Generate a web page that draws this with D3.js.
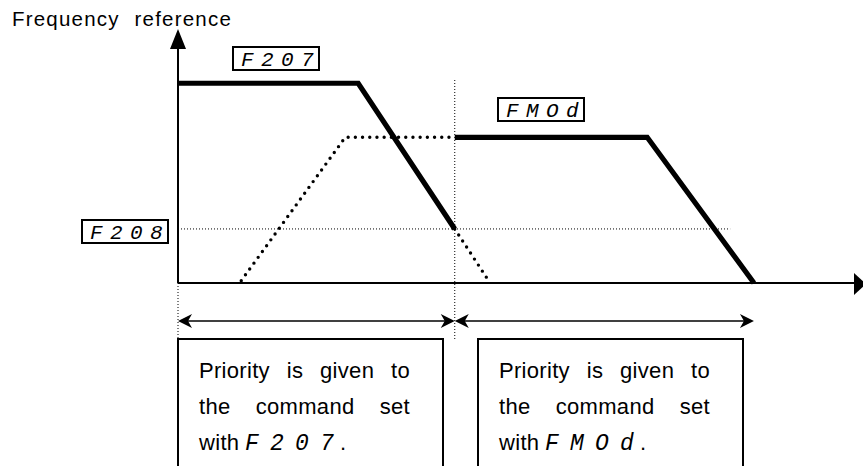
<!DOCTYPE html>
<html><head><meta charset="utf-8">
<script src="https://cdn.jsdelivr.net/npm/d3@7"></script>
<style>html,body{margin:0;padding:0;background:#fff;}svg{display:block;}</style>
</head><body>
<svg id="chart" width="863" height="466"></svg>
<script>
// ---- data (time units, frequency %) ----
const yLabel = "Frequency reference";
const seriesF207 = [{t:0,f:85},{t:26.5,f:85},{t:40.7,f:23}];
const seriesFMOd = [{t:40.7,f:62},{t:69,f:62},{t:84.7,f:0}];
const dottedAccel = [{t:9.3,f:1},{t:24.6,f:62},{t:40.7,f:62}];
const dottedDecel = [{t:40.7,f:23},{t:45.9,f:0}];
const levelF208 = 23;
const f208LineEnd = 81.2;
const switchTime = 40.7;
const ranges = [[0,40.7],[40.7,84.7]];
const paramCodes = ["F207","F208","FMOd"];
const boxLines = [
  ["Priority is given to","the command set","with","F207","."],
  ["Priority is given to","the command set","with","FMOd","."]
];

const svg = d3.select("#chart");
const x = d3.scaleLinear().domain([0,100]).range([178,858]);
const y = d3.scaleLinear().domain([0,100]).range([283,48]);
const line = d3.line().x(d=>x(d.t)).y(d=>y(d.f));
const font = "'Liberation Sans', Arial, sans-serif";
const segFont = "'Liberation Mono', 'DejaVu Sans Mono', monospace";

// thin dotted guides
svg.append("line").attr("x1",x(0)).attr("x2",x(f208LineEnd))
  .attr("y1",y(levelF208)).attr("y2",y(levelF208))
  .attr("stroke","#000").attr("stroke-width",1).attr("stroke-dasharray","1,2");
svg.append("line").attr("x1",x(switchTime)).attr("x2",x(switchTime))
  .attr("y1",80).attr("y2",339)
  .attr("stroke","#000").attr("stroke-width",1).attr("stroke-dasharray","1,2");
svg.append("line").attr("x1",x(0)).attr("x2",x(0))
  .attr("y1",y(0)).attr("y2",339)
  .attr("stroke","#000").attr("stroke-width",1).attr("stroke-dasharray","1,2");

// axes
svg.append("line").attr("x1",x(0)).attr("x2",856).attr("y1",y(0)).attr("y2",y(0))
  .attr("stroke","#000").attr("stroke-width",2);
svg.append("path").attr("d",`M854,273 L866,284 L854,295 Z`).attr("fill","#000");
svg.append("line").attr("x1",x(0)).attr("x2",x(0)).attr("y1",y(0)).attr("y2",45)
  .attr("stroke","#000").attr("stroke-width",2);
svg.append("path").attr("d",`M170,49 L178,29 L186,49 Z`).attr("fill","#000");

// dotted thick traces
[dottedAccel,dottedDecel].forEach(s=>{
  svg.append("path").attr("d",line(s)).attr("fill","none").attr("stroke","#000")
    .attr("stroke-width",3.4).attr("stroke-linecap","round").attr("stroke-dasharray","0,7.2");
});
// solid thick traces
[seriesF207,seriesFMOd].forEach(s=>{
  svg.append("path").attr("d",line(s)).attr("fill","none").attr("stroke","#000")
    .attr("stroke-width",5.2).attr("stroke-linejoin","miter");
});

// seven-segment style code text with per-character positions
function segText(x0, pitch, baseY, code, size){
  const xs = code.split("").map((c,i)=>x0+i*pitch).join(" ");
  return svg.append("text").attr("x",xs).attr("y",baseY).text(code)
    .attr("font-family",segFont).attr("font-style","italic").attr("font-size",size)
    .attr("fill","#000");
}
function segBox(bx, by, code){
  svg.append("rect").attr("x",bx).attr("y",by).attr("width",86).attr("height",23)
    .attr("fill","#fff").attr("stroke","#000").attr("stroke-width",2);
  segText(bx+8, 20, by+18.5, code, 21);
}
segBox(233,47,paramCodes[0]);
segBox(82,220,paramCodes[1]);
segBox(498,98,paramCodes[2]);

// y label
const lab = svg.append("text").attr("x",12).attr("y",26).text(yLabel)
  .attr("font-family",font).attr("font-size",20.5).attr("letter-spacing",1.2);
{
  const w = lab.node().getComputedTextLength();
  lab.attr("word-spacing", Math.max(0, 220 - w));
}

// range arrows
function head(tipX, yy, d){
  return `M${tipX},${yy} L${tipX+14*d},${yy-7} L${tipX+10*d},${yy} L${tipX+14*d},${yy+7} Z`;
}
ranges.forEach(r=>{
  const a = x(r[0]), b = x(r[1]), yy = 321;
  svg.append("line").attr("x1",a+4).attr("x2",b-4).attr("y1",yy).attr("y2",yy)
    .attr("stroke","#000").attr("stroke-width",1.5);
  svg.append("path").attr("d",head(a,yy,1)).attr("fill","#000");
  svg.append("path").attr("d",head(b,yy,-1)).attr("fill","#000");
});

// justified line via word-spacing
function justified(tx, ty, str, width){
  const t = svg.append("text").attr("x",tx).attr("y",ty).text(str)
    .attr("font-family",font).attr("font-size",22).attr("letter-spacing",0.3);
  const w = t.node().getComputedTextLength();
  const spaces = (str.match(/ /g)||[]).length;
  if (spaces) t.attr("word-spacing",(width-w)/spaces);
  return t;
}

// text boxes
const boxX = [178,478];
boxLines.forEach((L,i)=>{
  const bx = boxX[i];
  svg.append("rect").attr("x",bx).attr("y",339).attr("width",265).attr("height",140)
    .attr("fill","#fff").attr("stroke","#000").attr("stroke-width",2);
  const tx = bx+21;
  justified(tx,378,L[0],211);
  justified(tx,414,L[1],211);
  svg.append("text").attr("x",tx).attr("y",450).text(L[2])
    .attr("font-family",font).attr("font-size",22).attr("letter-spacing",0.3);
  segText(tx+46, 25, 450, L[3], 23);
  svg.append("text").attr("x",tx+46+3*25+20).attr("y",450).text(L[4])
    .attr("font-family",font).attr("font-size",22);
});
</script>
</body></html>
